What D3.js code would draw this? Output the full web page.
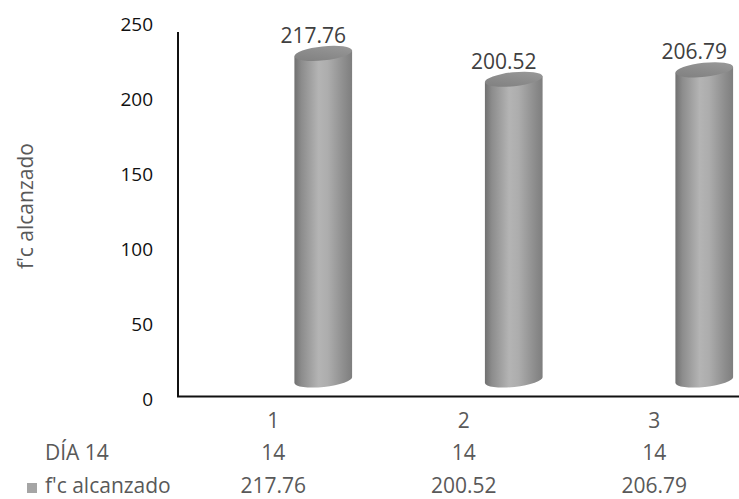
<!DOCTYPE html>
<html>
<head>
<meta charset="utf-8">
<script src="https://cdn.jsdelivr.net/npm/d3@7"></script>
<style>
  html, body { margin: 0; padding: 0; background: #fff; }
  svg { display: block; font-family: "Open Sans", "Noto Sans", sans-serif; }
</style>
</head>
<body>
<svg id="chart" width="739" height="499"></svg>
<script>
// Compressive strength reached at day 14, three specimens
const categories = ["1", "2", "3"];
const dayLabel = "DÍA 14";
const dayValues = [14, 14, 14];
const seriesName = "f'c alcanzado";
const fcValues = [217.76, 200.52, 206.79];
const yTicks = [0, 50, 100, 150, 200, 250];

const svg = d3.select("#chart");
const W = 739, H = 499;
const FONT = "'Open Sans', 'Noto Sans', sans-serif";
const FS = 21;         // data labels, table, axis title
const FS_TICK = 19;    // value axis labels

const x = d3.scaleBand().domain(categories).range([178, 749.5]).padding(0);
const y = d3.scaleLinear().domain([0, 250]).range([399, 24]);
const depthLift = 19;          // floor of the 3D box sits above the axis line
const depthShift = 50;         // cylinders pushed right by the perspective
const cylW = 58, rx = cylW / 2, ry = 7, tilt = -6;

const defs = svg.append("defs");
const bodyGrad = defs.append("linearGradient").attr("id", "cylBody")
  .attr("x1", 0).attr("x2", 1).attr("y1", 0).attr("y2", 0);
[[0, "#707070"], [0.12, "#8c8c8c"], [0.42, "#b4b4b4"], [0.58, "#adadad"], [0.85, "#8e8e8e"], [1, "#7e7e7e"]]
  .forEach(([o, c]) => bodyGrad.append("stop").attr("offset", o).attr("stop-color", c));
const capGrad = defs.append("linearGradient").attr("id", "cylTop")
  .attr("x1", 0).attr("x2", 1).attr("y1", 1).attr("y2", 0);
[[0, "#7e7e7e"], [0.5, "#8c8c8c"], [1, "#9c9c9c"]]
  .forEach(([o, c]) => capGrad.append("stop").attr("offset", o).attr("stop-color", c));

// axis lines
svg.append("line").attr("x1", 178).attr("x2", 178).attr("y1", 32).attr("y2", 397)
  .attr("stroke", "#111").attr("stroke-width", 2);
svg.append("line").attr("x1", 177).attr("x2", W).attr("y1", 396.5).attr("y2", 396.5)
  .attr("stroke", "#111").attr("stroke-width", 2);

// y tick labels
const yAxis = svg.append("g").attr("transform", "translate(153,0)")
  .call(d3.axisLeft(y).tickValues(yTicks).tickSize(0).tickPadding(0));
yAxis.select(".domain").remove();
yAxis.selectAll("text").attr("font-family", FONT).attr("font-size", FS_TICK)
  .attr("fill", "#111").attr("dy", "0.36em");

// axis title
svg.append("text")
  .attr("transform", "translate(33,206) rotate(-90)")
  .attr("text-anchor", "middle")
  .attr("font-size", FS).attr("fill", "#595959")
  .text(seriesName);

// cylinders
const rad = tilt * Math.PI / 180;
const ex = rx * Math.cos(rad), ey = rx * Math.sin(rad);
const cyl = svg.append("g").selectAll("g").data(fcValues).join("g");
cyl.each(function (v, i) {
  const g = d3.select(this);
  const cx = x(categories[i]) + x.bandwidth() / 2 + depthShift;
  const b = y(0) - depthLift, t = y(v) - depthLift;
  g.append("path")
    .attr("d", `M${cx - ex},${t - ey} L${cx - ex},${b - ey} A${rx},${ry} ${tilt} 0 0 ${cx + ex},${b + ey} L${cx + ex},${t + ey} Z`)
    .attr("fill", "url(#cylBody)");
  g.append("ellipse")
    .attr("cx", cx).attr("cy", t).attr("rx", rx).attr("ry", ry)
    .attr("transform", `rotate(${tilt},${cx},${t})`)
    .attr("fill", "url(#cylTop)");
  g.append("text")
    .attr("x", cx - 10).attr("y", t - 18).attr("dy", "0.36em")
    .attr("text-anchor", "middle").attr("font-size", FS).attr("fill", "#404040")
    .text(d3.format(".2f")(v));
});

// data table under the axis
const cx0 = c => x(c) + x.bandwidth() / 2;
svg.append("g").selectAll("text").data(categories).join("text")
  .attr("x", cx0).attr("y", 420).attr("dy", "0.36em").attr("text-anchor", "middle")
  .attr("font-size", FS).attr("fill", "#595959").text(d => d);

svg.append("text").attr("x", 45).attr("y", 452).attr("dy", "0.36em")
  .attr("font-size", FS).attr("fill", "#595959").text(dayLabel);
svg.append("g").selectAll("text").data(dayValues).join("text")
  .attr("x", (d, i) => cx0(categories[i])).attr("y", 452).attr("dy", "0.36em")
  .attr("text-anchor", "middle").attr("font-size", FS).attr("fill", "#595959").text(d => d);

svg.append("rect").attr("x", 27).attr("y", 483).attr("width", 10).attr("height", 10)
  .attr("fill", "#a5a5a5");
svg.append("text").attr("x", 45).attr("y", 485).attr("dy", "0.36em")
  .attr("font-size", FS).attr("fill", "#595959").text(seriesName);
svg.append("g").selectAll("text").data(fcValues).join("text")
  .attr("x", (d, i) => cx0(categories[i])).attr("y", 485).attr("dy", "0.36em")
  .attr("text-anchor", "middle").attr("font-size", FS).attr("fill", "#595959")
  .text(d => d3.format(".2f")(d));
</script>
</body>
</html>
